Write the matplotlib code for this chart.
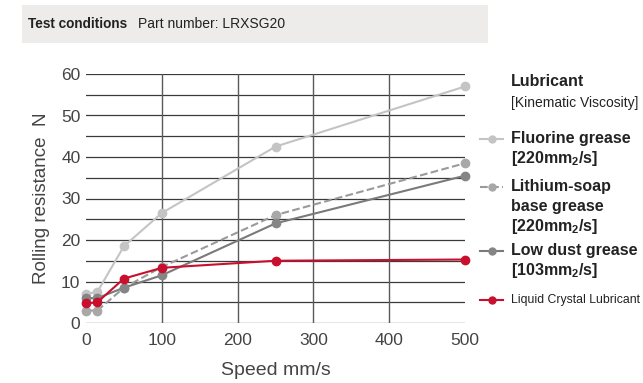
import matplotlib
matplotlib.use("Agg")
import matplotlib.pyplot as plt
from matplotlib.patches import Rectangle
from matplotlib.lines import Line2D

plt.rcParams['font.family'] = ['Liberation Sans', 'DejaVu Sans']

# data
speed = [0, 15, 50, 100, 250, 500]
fluorine = [7, 7.5, 18.5, 26.5, 42.5, 57]
lithium = [3, 3, 8.5, 13.5, 26, 38.5]
low_dust = [6, 6, 8.5, 11.5, 24, 35.5]
liquid_crystal = [4.7, 5, 10.7, 13.3, 15, 15.3]

y_ticks = [0, 10, 20, 30, 40, 50, 60]
x_ticks = [0, 100, 200, 300, 400, 500]

W, H = 643, 383
fig = plt.figure(figsize=(W / 100, H / 100), dpi=100)


def fx(px):
    return px / W


def fy(py):
    return 1 - py / H


# header box
fig.patches.append(Rectangle((fx(22), fy(43)), fx(488 - 22), (43 - 5) / H,
                             transform=fig.transFigure, facecolor='#edecea',
                             edgecolor='none'))
fig.text(fx(28), fy(24), 'Test conditions', fontsize=9.8, weight='bold',
         color='#222222', va='center')
fig.text(fx(138), fy(24), 'Part number: LRXSG20', fontsize=10,
         color='#222222', va='center')

ax = fig.add_axes([fx(86), fy(323), fx(465 - 86), (323 - 74) / H])
ax.set_xlim(0, 500)
ax.set_ylim(0, 60)
for s in ax.spines.values():
    s.set_visible(False)

for yv in range(0, 61, 5):
    ax.axhline(yv, color='#3a3a3a', lw=0.9, zorder=1)
for xv in [100, 200, 300, 400]:
    ax.axvline(xv, color='#5a5a5a', lw=1.0, zorder=1)

series = [
    (fluorine, '#c4c4c4', '-', '#c4c4c4'),
    (lithium, '#9a9a9a', '--', '#a8a8a8'),
    (low_dust, '#7a7a7a', '-', '#858585'),
    (liquid_crystal, '#c8102e', '-', '#c8102e'),
]
for vals, col, ls, mcol in series:
    ax.plot(speed, vals, color=col, ls=ls, lw=1.5, marker='o', ms=6,
            mfc=mcol, mec=mcol, clip_on=False, zorder=3)

ax.set_xticks(x_ticks)
ax.set_yticks(y_ticks)
ax.tick_params(length=0, labelsize=12.5, labelcolor='#444444', pad=4)
ax.tick_params(axis='x', pad=7)
ax.set_xlabel('Speed mm/s', fontsize=14, color='#444444', labelpad=10)
ax.set_ylabel('Rolling resistance  N', fontsize=13.5, color='#444444', labelpad=8)

# legend drawn by hand
tx = fx(511)
fig.text(tx, fy(82), 'Lubricant', fontsize=11.5, weight='bold', color='#222222', va='center')
fig.text(tx, fy(103), '[Kinematic Viscosity]', fontsize=10, color='#222222', va='center')

sub2 = r'$_\mathregular{2}$'
entries = [
    (139, ['Fluorine grease', '[220mm' + sub2 + '/s]'], series[0]),
    (187, ['Lithium-soap', 'base grease', '[220mm' + sub2 + '/s]'], series[1]),
    (251, ['Low dust grease', '[103mm' + sub2 + '/s]'], series[2]),
]
for py, lines, (vals, col, ls, mcol) in entries:
    fig.add_artist(Line2D([fx(480), fx(503)], [fy(py), fy(py)], color=col, ls=ls, lw=1.5,
                          transform=fig.transFigure))
    fig.add_artist(Line2D([fx(492)], [fy(py)], marker='o', ms=5, mfc=mcol, mec=mcol,
                          transform=fig.transFigure))
    for i, t in enumerate(lines):
        fig.text(tx, fy(py + 20 * i), t, fontsize=11.5, weight='bold', color='#222222',
                 va='center')

fig.add_artist(Line2D([fx(480), fx(503)], [fy(300), fy(300)], color='#c8102e', lw=1.5,
                      transform=fig.transFigure))
fig.add_artist(Line2D([fx(492)], [fy(300)], marker='o', ms=5, mfc='#c8102e', mec='#c8102e',
                      transform=fig.transFigure))
fig.text(tx, fy(300), 'Liquid Crystal Lubricant', fontsize=8.8, color='#222222', va='center')

fig.savefig('out.png', dpi=100)
